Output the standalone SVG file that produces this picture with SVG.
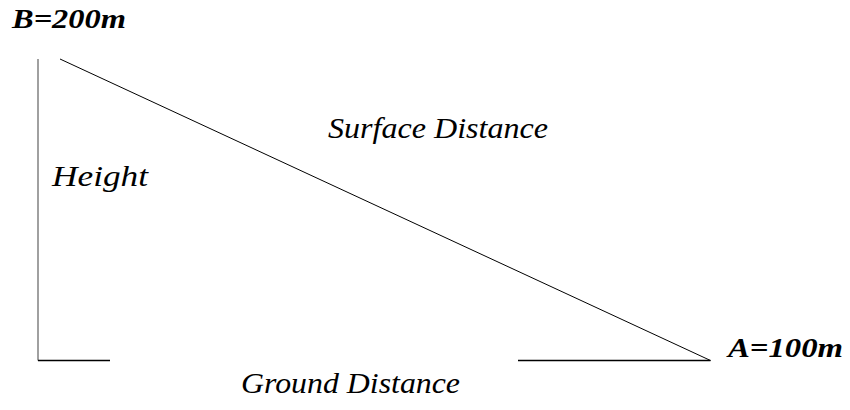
<svg xmlns="http://www.w3.org/2000/svg" width="850" height="410" viewBox="0 0 850 410">
<style>
.lbl{font-family:"Liberation Serif","Times New Roman",serif;font-style:italic;font-size:30px;fill:#000}
.b{font-weight:bold;font-size:27px}
.ln{stroke:#000;stroke-width:1.3;fill:none}
</style>
<rect width="850" height="410" fill="#fff"/>
<g id="connectors">
<line x1="38" y1="59" x2="38" y2="360.5" stroke="#808080" stroke-width="1.5"/>
<line class="ln" x1="38" y1="360.5" x2="110" y2="360.5"/>
<line class="ln" x1="518" y1="360.5" x2="710.5" y2="360.5"/>
<line x1="60" y1="59" x2="710.5" y2="360.5" stroke="#000" stroke-width="1"/>
</g>
<g id="labelB"><text class="lbl b" x="12" y="28" textLength="114" lengthAdjust="spacingAndGlyphs">B=200m</text></g>
<g id="labelA"><text class="lbl b" x="728" y="357" textLength="115" lengthAdjust="spacingAndGlyphs">A=100m</text></g>
<g id="height"><text class="lbl" x="52" y="186" textLength="96" lengthAdjust="spacingAndGlyphs">Height</text></g>
<g id="surface"><text class="lbl" x="328" y="138" textLength="220" lengthAdjust="spacingAndGlyphs">Surface Distance</text></g>
<g id="ground"><text class="lbl" x="241" y="393" textLength="219" lengthAdjust="spacingAndGlyphs">Ground Distance</text></g>
</svg>
